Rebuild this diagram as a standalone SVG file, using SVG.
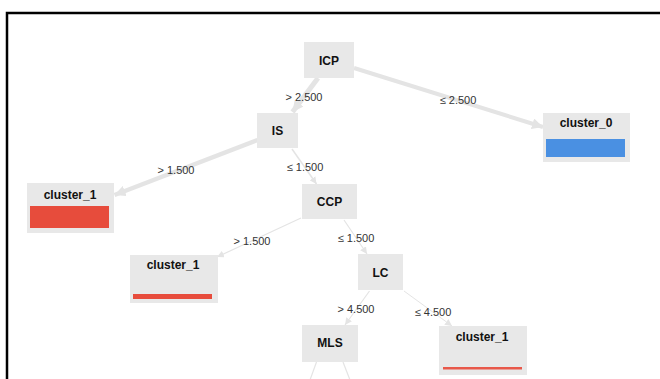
<svg xmlns="http://www.w3.org/2000/svg" width="660" height="379" viewBox="0 0 660 379">
<style>
.box{fill:#e8e8e8}
.t{font-family:"Liberation Sans",Arial,sans-serif;font-weight:bold;font-size:12px;fill:#111;text-anchor:middle}
.l{font-family:"Liberation Sans",Arial,sans-serif;font-size:11px;fill:#333;text-anchor:middle}
.e{stroke:#e4e4e4;fill:none}
</style>
<defs>
<marker id="ab" viewBox="0 0 10 10" refX="10" refY="5" markerWidth="11" markerHeight="11" markerUnits="userSpaceOnUse" orient="auto"><path d="M0,0 L10,5 L0,10 z" fill="#e4e4e4"/></marker>
<marker id="as" viewBox="0 0 10 10" refX="10" refY="5" markerWidth="7" markerHeight="7" markerUnits="userSpaceOnUse" orient="auto"><path d="M0,0 L10,5 L0,10 z" fill="#e4e4e4"/></marker>
</defs>
<rect width="660" height="379" fill="#fff"/>
<rect x="7" y="13" width="720" height="420" fill="none" stroke="#000" stroke-width="2.5"/>
<g id="connectors">
<line class="e" x1="318" y1="78" x2="292.5" y2="112" stroke-width="5" marker-end="url(#ab)"/>
<line class="e" x1="354" y1="68" x2="543" y2="127" stroke-width="4" marker-end="url(#ab)"/>
<line class="e" x1="257.5" y1="140" x2="114.5" y2="195" stroke-width="4.5" marker-end="url(#ab)"/>
<line class="e" x1="292" y1="149" x2="316.5" y2="184" stroke-width="1.5" marker-end="url(#as)"/>
<line class="e" x1="301" y1="218" x2="217" y2="257" stroke-width="1.2" marker-end="url(#as)"/>
<line class="e" x1="344" y1="220" x2="367" y2="254" stroke-width="1.2" marker-end="url(#as)"/>
<line class="e" x1="369.5" y1="291" x2="345" y2="325" stroke-width="1.2" marker-end="url(#as)"/>
<line class="e" x1="404" y1="291" x2="452" y2="326" stroke-width="1" marker-end="url(#as)"/>
<line class="e" x1="316.5" y1="362" x2="310" y2="380" stroke-width="1.2"/>
<line class="e" x1="343" y1="362" x2="350" y2="380" stroke-width="1.2"/>
<text class="l" x="304" y="101">&gt; 2.500</text>
<text class="l" x="458" y="104">≤ 2.500</text>
<text class="l" x="176" y="174">&gt; 1.500</text>
<text class="l" x="305" y="171">≤ 1.500</text>
<text class="l" x="252" y="245">&gt; 1.500</text>
<text class="l" x="356" y="242">≤ 1.500</text>
<text class="l" x="356" y="313">&gt; 4.500</text>
<text class="l" x="433" y="316">≤ 4.500</text>
</g>
<g id="ICP"><rect class="box" x="304" y="42" width="50" height="36"/><text class="t" x="329" y="65">ICP</text></g>
<g id="IS"><rect class="box" x="257" y="113" width="41" height="35"/><text class="t" x="277.5" y="135">IS</text></g>
<g id="cluster_0"><rect class="box" x="543" y="113" width="87" height="49"/><text class="t" x="586" y="127">cluster_0</text><rect x="546" y="139" width="79" height="18" fill="#4a90e2"/></g>
<g id="cluster_1a"><rect class="box" x="27" y="183" width="87" height="50"/><text class="t" x="70" y="199">cluster_1</text><rect x="30" y="206" width="79" height="22" fill="#e74c3c"/></g>
<g id="CCP"><rect class="box" x="302" y="184" width="55" height="35"/><text class="t" x="329.5" y="206">CCP</text></g>
<g id="cluster_1b"><rect class="box" x="130" y="255" width="88" height="48"/><text class="t" x="173" y="269">cluster_1</text><rect x="133" y="294" width="79" height="5" fill="#e74c3c"/></g>
<g id="LC"><rect class="box" x="358" y="254" width="45" height="36"/><text class="t" x="380.5" y="277">LC</text></g>
<g id="MLS"><rect class="box" x="302" y="325" width="56" height="37"/><text class="t" x="330" y="347">MLS</text></g>
<g id="cluster_1c"><rect class="box" x="439" y="326" width="88" height="49"/><text class="t" x="482" y="341">cluster_1</text><rect x="443" y="367" width="79" height="2.5" fill="#e8584a"/></g>
</svg>
